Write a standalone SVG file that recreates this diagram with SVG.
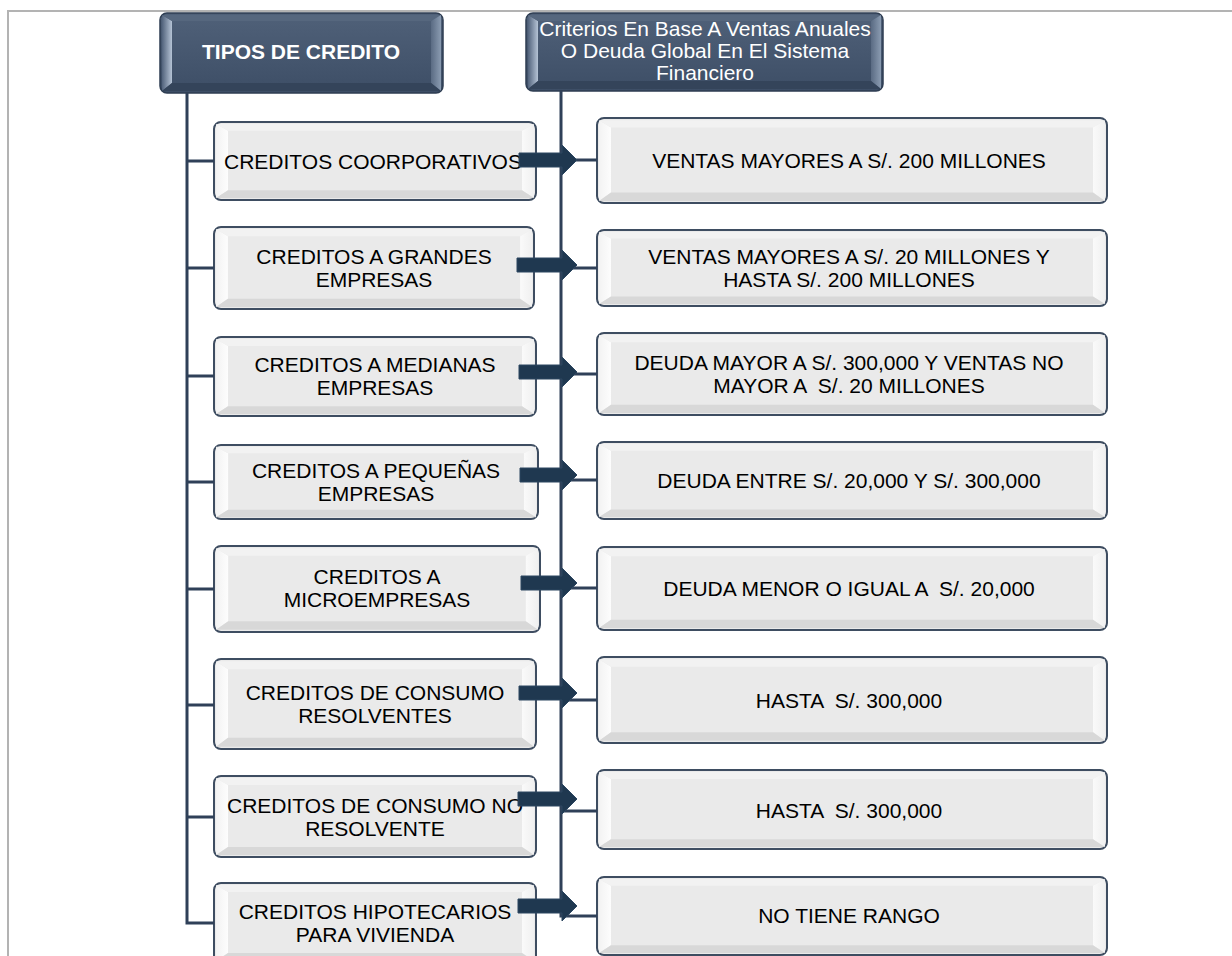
<svg xmlns="http://www.w3.org/2000/svg" xmlns:xlink="http://www.w3.org/1999/xlink" width="1232" height="956" viewBox="0 0 1232 956">
<defs>
<linearGradient id="hdFace" x1="0" y1="0" x2="0" y2="1"><stop offset="0" stop-color="#506179"/><stop offset="1" stop-color="#3d4e66"/></linearGradient>
<linearGradient id="hdLeft" x1="0" y1="0" x2="1" y2="0"><stop offset="0" stop-color="#52637c"/><stop offset="1" stop-color="#b5c3d5"/></linearGradient>
<linearGradient id="hdRight" x1="0" y1="0" x2="1" y2="0"><stop offset="0" stop-color="#5a6b83"/><stop offset="1" stop-color="#8a9bb1"/></linearGradient>
<linearGradient id="ltLeft" x1="0" y1="0" x2="1" y2="0"><stop offset="0" stop-color="#f3f3f3"/><stop offset="1" stop-color="#fdfdfd"/></linearGradient>
<linearGradient id="ltRight" x1="0" y1="0" x2="1" y2="0"><stop offset="0" stop-color="#fafafa"/><stop offset="1" stop-color="#f0f0f0"/></linearGradient>
<symbol id="bevL" viewBox="0 0 322 80" preserveAspectRatio="none">
<polygon points="2,2 14,9 14,70 2,78" fill="url(#ltLeft)"/>
<polygon points="2,2 320,2 308,9 14,9" fill="#f2f2f2"/>
<polygon points="320,2 320,78 308,70 308,9" fill="url(#ltRight)"/>
<polygon points="2,78 14,70 308,70 320,78" fill="#d8d8d8"/>
</symbol>
<symbol id="bevR" viewBox="0 0 510 80" preserveAspectRatio="none">
<polygon points="2,2 14,9 14,70 2,78" fill="url(#ltLeft)"/>
<polygon points="2,2 508,2 496,9 14,9" fill="#f2f2f2"/>
<polygon points="508,2 508,78 496,70 496,9" fill="url(#ltRight)"/>
<polygon points="2,78 14,70 496,70 508,78" fill="#d8d8d8"/>
</symbol>
<style>
.frame{fill:none;stroke:#b3b3b3;stroke-width:2}
.box{fill:#eaeaea;stroke:#3e4d61;stroke-width:2}
.hd{fill:url(#hdFace);stroke:#2e3d52;stroke-width:1.5}
.t{font-family:"Liberation Sans",Arial,sans-serif;font-size:21px;fill:#000;text-anchor:middle;white-space:pre}
.th{font-family:"Liberation Sans",Arial,sans-serif;font-size:21px;fill:#ffffff;text-anchor:middle;white-space:pre}
.ln{fill:none;stroke:#2f4058;stroke-width:3}
.ar{fill:#1f3850;stroke:#2c4660;stroke-width:1}
</style>
</defs>
<rect width="1232" height="956" fill="#ffffff"/>
<path class="frame" d="M8,956 V11 H1232"/>

<g id="header-tipos">
<rect class="hd" x="160" y="13" width="283" height="80" rx="7"/>
<polygon points="162,15 172,21 172,83 162,91" fill="url(#hdLeft)"/>
<polygon points="162,15 441,15 431,21 172,21" fill="#56677e"/>
<polygon points="441,15 441,91 431,83 431,21" fill="url(#hdRight)"/>
<polygon points="162,91 172,83 431,83 441,91" fill="#34445a"/>
<text class="th" x="301" y="59" font-weight="bold">TIPOS DE CREDITO</text>
</g>

<g id="header-criterios">
<rect class="hd" x="526" y="13" width="357" height="78" rx="7"/>
<polygon points="528,15 538,21 538,81 528,89" fill="url(#hdLeft)"/>
<polygon points="528,15 881,15 871,21 538,21" fill="#56677e"/>
<polygon points="881,15 881,89 871,81 871,21" fill="url(#hdRight)"/>
<polygon points="528,89 538,81 871,81 881,89" fill="#34445a"/>
<text class="th" x="705" y="36">Criterios En Base A Ventas Anuales</text>
<text class="th" x="705" y="58">O Deuda Global En El Sistema</text>
<text class="th" x="705" y="80">Financiero</text>
</g>

<g id="tipo-1">
<rect class="box" x="214" y="122" width="322" height="78" rx="7"/>
<use xlink:href="#bevL" x="214" y="122" width="322" height="78"/>
<text class="t" x="373" y="168.5">CREDITOS COORPORATIVOS</text>
</g>
<g id="tipo-2">
<rect class="box" x="214" y="227" width="320" height="82" rx="7"/>
<use xlink:href="#bevL" x="214" y="227" width="320" height="82"/>
<text class="t" x="374" y="263.5">CREDITOS A GRANDES</text>
<text class="t" x="374" y="286.5">EMPRESAS</text>
</g>
<g id="tipo-3">
<rect class="box" x="214" y="337" width="322" height="79" rx="7"/>
<use xlink:href="#bevL" x="214" y="337" width="322" height="79"/>
<text class="t" x="375" y="372">CREDITOS A MEDIANAS</text>
<text class="t" x="375" y="395">EMPRESAS</text>
</g>
<g id="tipo-4">
<rect class="box" x="214" y="445" width="324" height="74" rx="7"/>
<use xlink:href="#bevL" x="214" y="445" width="324" height="74"/>
<text class="t" x="376" y="477.5">CREDITOS A PEQUEÑAS</text>
<text class="t" x="376" y="500.5">EMPRESAS</text>
</g>
<g id="tipo-5">
<rect class="box" x="214" y="546" width="326" height="86" rx="7"/>
<use xlink:href="#bevL" x="214" y="546" width="326" height="86"/>
<text class="t" x="377" y="584">CREDITOS A</text>
<text class="t" x="377" y="607">MICROEMPRESAS</text>
</g>
<g id="tipo-6">
<rect class="box" x="214" y="659" width="322" height="90" rx="7"/>
<use xlink:href="#bevL" x="214" y="659" width="322" height="90"/>
<text class="t" x="375" y="699.5">CREDITOS DE CONSUMO</text>
<text class="t" x="375" y="722.5">RESOLVENTES</text>
</g>
<g id="tipo-7">
<rect class="box" x="214" y="776" width="322" height="81" rx="7"/>
<use xlink:href="#bevL" x="214" y="776" width="322" height="81"/>
<text class="t" x="375" y="813">CREDITOS DE CONSUMO NO</text>
<text class="t" x="375" y="836">RESOLVENTE</text>
</g>
<g id="tipo-8">
<rect class="box" x="214" y="883" width="322" height="80" rx="7"/>
<use xlink:href="#bevL" x="214" y="883" width="322" height="80"/>
<text class="t" x="375" y="918.5">CREDITOS HIPOTECARIOS</text>
<text class="t" x="375" y="941.5">PARA VIVIENDA</text>
</g>

<g id="criterio-1">
<rect class="box" x="597" y="118" width="510" height="85" rx="7"/>
<use xlink:href="#bevR" x="597" y="118" width="510" height="85"/>
<text class="t" x="849" y="168">VENTAS MAYORES A S/. 200 MILLONES</text>
</g>
<g id="criterio-2">
<rect class="box" x="597" y="230" width="510" height="76" rx="7"/>
<use xlink:href="#bevR" x="597" y="230" width="510" height="76"/>
<text class="t" x="849" y="263.5">VENTAS MAYORES A S/. 20 MILLONES Y</text>
<text class="t" x="849" y="286.5">HASTA S/. 200 MILLONES</text>
</g>
<g id="criterio-3">
<rect class="box" x="597" y="333" width="510" height="82" rx="7"/>
<use xlink:href="#bevR" x="597" y="333" width="510" height="82"/>
<text class="t" x="849" y="369.5">DEUDA MAYOR A S/. 300,000 Y VENTAS NO</text>
<text class="t" x="849" y="392.5">MAYOR A  S/. 20 MILLONES</text>
</g>
<g id="criterio-4">
<rect class="box" x="597" y="442" width="510" height="77" rx="7"/>
<use xlink:href="#bevR" x="597" y="442" width="510" height="77"/>
<text class="t" x="849" y="488">DEUDA ENTRE S/. 20,000 Y S/. 300,000</text>
</g>
<g id="criterio-5">
<rect class="box" x="597" y="547" width="510" height="83" rx="7"/>
<use xlink:href="#bevR" x="597" y="547" width="510" height="83"/>
<text class="t" x="849" y="596">DEUDA MENOR O IGUAL A  S/. 20,000</text>
</g>
<g id="criterio-6">
<rect class="box" x="597" y="657" width="510" height="86" rx="7"/>
<use xlink:href="#bevR" x="597" y="657" width="510" height="86"/>
<text class="t" x="849" y="707.5">HASTA  S/. 300,000</text>
</g>
<g id="criterio-7">
<rect class="box" x="597" y="770" width="510" height="79" rx="7"/>
<use xlink:href="#bevR" x="597" y="770" width="510" height="79"/>
<text class="t" x="849" y="818">HASTA  S/. 300,000</text>
</g>
<g id="criterio-8">
<rect class="box" x="597" y="877" width="510" height="78" rx="7"/>
<use xlink:href="#bevR" x="597" y="877" width="510" height="78"/>
<text class="t" x="849" y="923">NO TIENE RANGO</text>
</g>

<g id="connectors">
<path class="ln" d="M187,93 V923 H214 M187,161 H214 M187,268 H214 M187,376 H214 M187,482 H214 M187,589 H214 M187,705 H214 M187,817 H214"/>
<path class="ln" d="M561,91 V916 H597 M561,160 H597 M561,268 H597 M561,374 H597 M561,480 H597 M561,588 H597 M561,700 H597 M561,811 H597"/>
<polygon class="ar" points="519,153 562,153 562,145 577,160 562,175 562,167 519,167"/>
<polygon class="ar" points="517,258 562,258 562,250 577,265 562,280 562,272 517,272"/>
<polygon class="ar" points="519,365 562,365 562,357 577,372 562,387 562,379 519,379"/>
<polygon class="ar" points="520,468 562,468 562,460 577,475 562,490 562,482 520,482"/>
<polygon class="ar" points="521,576 562,576 562,568 577,583 562,598 562,590 521,590"/>
<polygon class="ar" points="519,686 562,686 562,678 577,693 562,708 562,700 519,700"/>
<polygon class="ar" points="518,792 562,792 562,784 577,799 562,814 562,806 518,806"/>
<polygon class="ar" points="518,899 562,899 562,891 577,906 562,921 562,913 518,913"/>
</g>
</svg>
